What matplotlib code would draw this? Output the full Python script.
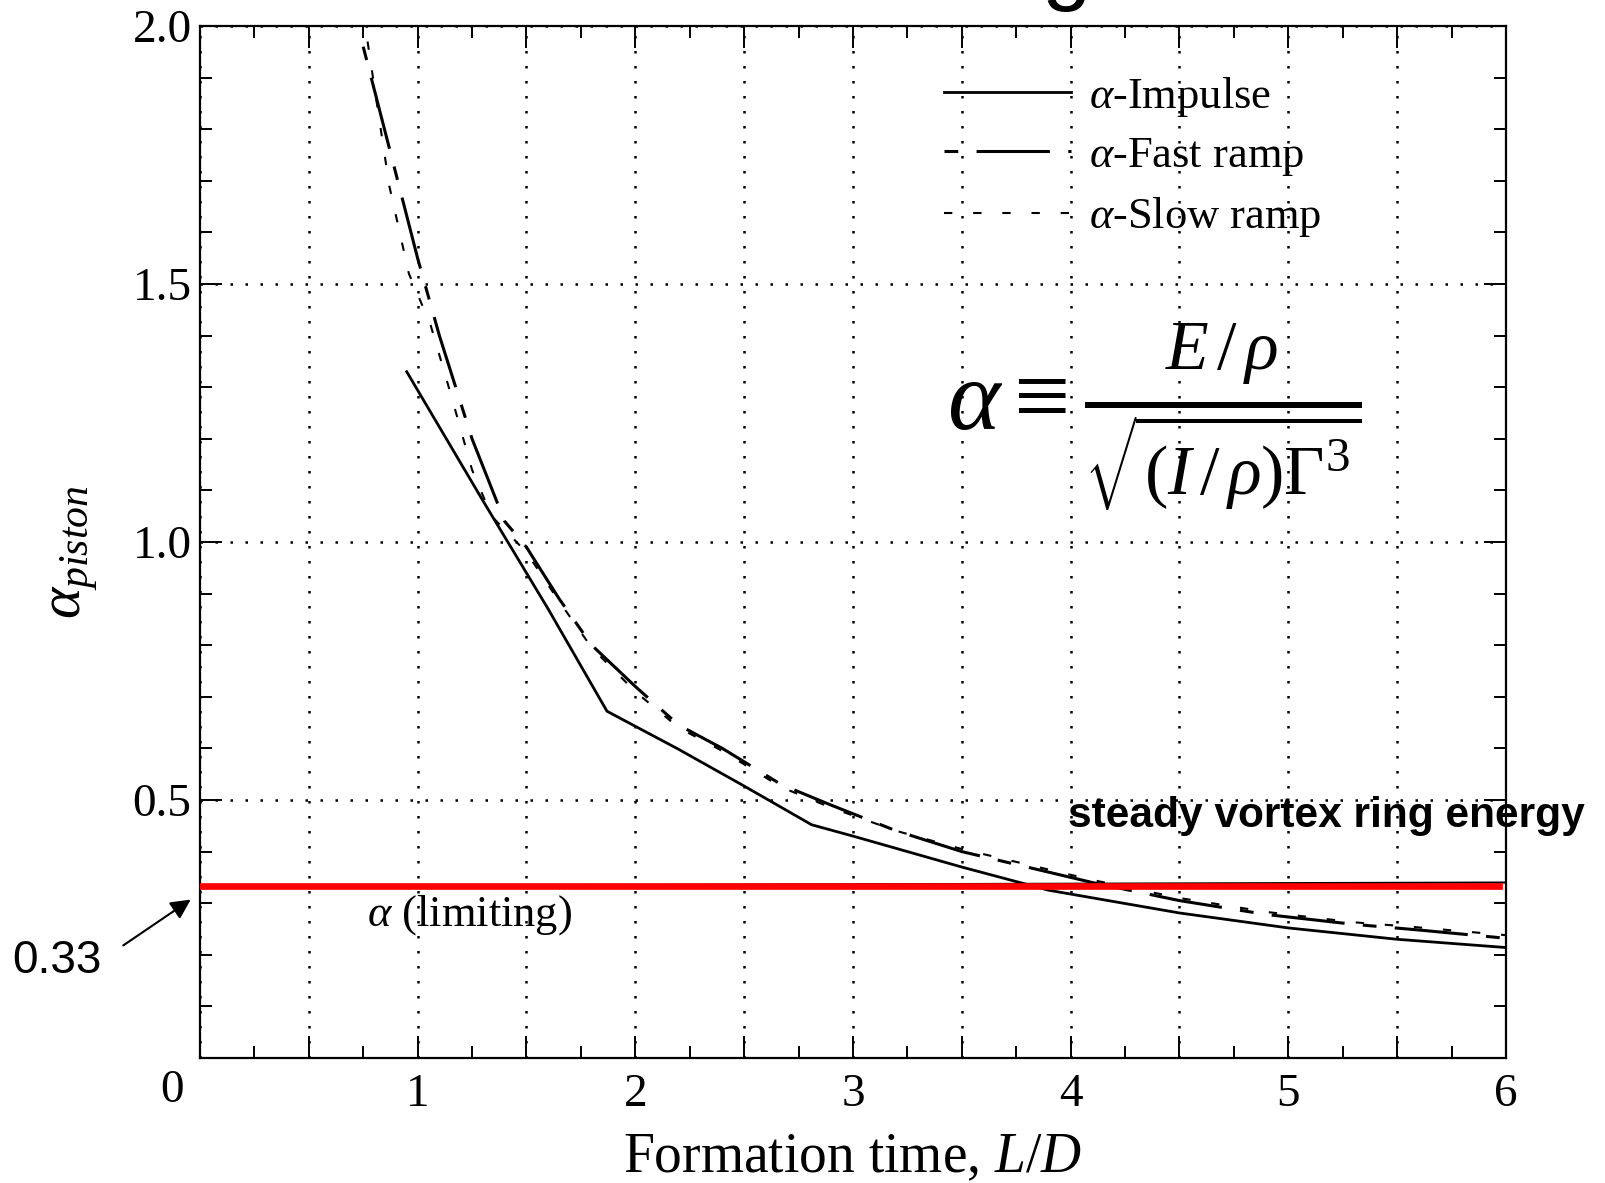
import numpy as np
import matplotlib
matplotlib.use('Agg')
import matplotlib.pyplot as plt
from matplotlib.ticker import MultipleLocator, FuncFormatter

plt.rcParams['font.family'] = ['Liberation Serif', 'DejaVu Serif']
plt.rcParams['mathtext.fontset'] = 'custom'
plt.rcParams['mathtext.rm'] = 'Liberation Serif'
plt.rcParams['mathtext.it'] = 'Liberation Serif:italic'
plt.rcParams['mathtext.bf'] = 'Liberation Serif:bold'

# data
x_impulse = [0.95, 1.3, 1.6, 1.87, 2.2, 2.5, 2.81, 3.0, 3.5, 3.9, 4.5, 5.0, 5.5, 6.0]
y_impulse = [1.33, 1.08, 0.87, 0.672, 0.598, 0.527, 0.452, 0.43, 0.37, 0.325, 0.281, 0.252, 0.230, 0.214]

x_fast = [0.75, 0.86, 1.0, 1.1, 1.25, 1.4, 1.5, 1.65, 1.8, 2.0, 2.2, 2.4, 2.67, 2.9, 3.2, 3.5, 3.8, 4.1, 4.5, 4.9, 5.3, 5.6, 6.0]
y_fast = [1.96, 1.78, 1.55, 1.40, 1.20, 1.04, 0.99, 0.89, 0.80, 0.72, 0.645, 0.60, 0.53, 0.49, 0.44, 0.40, 0.37, 0.34, 0.305, 0.278, 0.259, 0.248, 0.232]

x_slow = [0.77, 0.82, 0.87, 0.96, 1.06, 1.15, 1.25, 1.34, 1.5, 1.65, 1.8, 2.0, 2.2, 2.4, 2.67, 2.9, 3.2, 3.5, 3.8, 4.1, 4.5, 4.9, 5.3, 5.6, 6.0]
y_slow = [1.97, 1.83, 1.69, 1.52, 1.42, 1.29, 1.14, 1.05, 0.98, 0.885, 0.795, 0.71, 0.64, 0.595, 0.525, 0.485, 0.44, 0.405, 0.375, 0.345, 0.31, 0.283, 0.263, 0.253, 0.238]

x_limit = [0.8, 6.0]
y_limit = [0.334, 0.340]
alpha_steady = 0.333

labels = [r'$\alpha$-Impulse', r'$\alpha$-Fast ramp', r'$\alpha$-Slow ramp']

fig = plt.figure(figsize=(16.06, 11.83), dpi=100)
ax = fig.add_axes([0.1245, 0.1057, 0.8132, 0.8723])

ax.plot(x_impulse, y_impulse, color='black', lw=2.0, label=labels[0])
ax.plot(x_fast, y_fast, color='black', lw=2.2, dashes=(4.5, 6, 24, 6), label=labels[1])
ax.plot(x_slow, y_slow, color='black', lw=1.5, dashes=(4, 10), label=labels[2])

ax.plot(x_limit, y_limit, color='black', lw=1.5)
ax.axhline(alpha_steady, xmin=0, xmax=0.995, color='red', lw=4.8, zorder=5)

ax.set_xlim(0, 6)
ax.set_ylim(0, 2.0)

ax.xaxis.set_major_locator(MultipleLocator(0.5))
ax.xaxis.set_minor_locator(MultipleLocator(0.25))
ax.yaxis.set_major_locator(MultipleLocator(0.5))
ax.yaxis.set_minor_locator(MultipleLocator(0.1))

def xfmt(v, pos):
    if abs(v - round(v)) < 1e-6 and round(v) > 0:
        return '%d' % round(v)
    return ''

def yfmt(v, pos):
    if v < 0.01:
        return ''
    return '%.1f' % v

ax.xaxis.set_major_formatter(FuncFormatter(xfmt))
ax.yaxis.set_major_formatter(FuncFormatter(yfmt))

ax.tick_params(which='both', direction='in', top=True, right=True, labelsize=34)
ax.tick_params(which='major', length=16, width=1.4)
ax.tick_params(which='minor', length=8.5, width=1.4)
ax.tick_params(axis='x', pad=11)
ax.tick_params(axis='y', pad=6)
for s in ax.spines.values():
    s.set_linewidth(1.6)

ax.grid(True, which='major', color='black', lw=1.8, linestyle=(0, (1, 5)))

ax.text(-0.13, -0.032, '0', transform=ax.get_xaxis_transform(), fontsize=34,
        ha='center', va='center')

ax.set_xlabel('Formation time, $L/D$', fontsize=40)
ax.xaxis.set_label_coords(0.5, -0.072)
ax.set_ylabel(r'$\alpha_{piston}$', fontsize=43)
ax.yaxis.set_label_coords(-0.077, 0.49)

ax.legend(loc='upper left', bbox_to_anchor=(0.57, 0.953), frameon=False,
          fontsize=32, borderpad=0, borderaxespad=0, handlelength=2.85,
          handletextpad=0.4, labelspacing=0.39)

ax.text(0.572, 0.62,
        r'$\alpha \equiv \frac{E\,/\,\rho}{\sqrt{(I\,/\,\rho)\Gamma^3}}$',
        transform=ax.transAxes, fontsize=72, ha='left', va='center')

ax.text(0.128, 0.139, r'$\alpha$ (limiting)', transform=ax.transAxes,
        fontsize=32, ha='left', va='center')

ax.text(0.665, 0.234, 'steady vortex ring energy', transform=ax.transAxes,
        fontsize=30.6, fontweight='bold', family='Liberation Sans',
        ha='left', va='center', zorder=6)

fig.text(0.0075, 0.188, '0.33', fontsize=33, family='Liberation Sans',
         ha='left', va='center')
ax.annotate('', xy=(0.1202, 0.2409), xytext=(0.0753, 0.1995),
            xycoords='figure fraction', textcoords='figure fraction',
            arrowprops=dict(arrowstyle='-|>', color='black', lw=1.5,
                            mutation_scale=30), annotation_clip=False)

# title fragment cut off at the top of the slide
fig.text(0.664, 1.006, 'g', fontsize=64, family='Liberation Sans',
         ha='center', va='baseline')

plt.savefig('out.png', dpi=100)
